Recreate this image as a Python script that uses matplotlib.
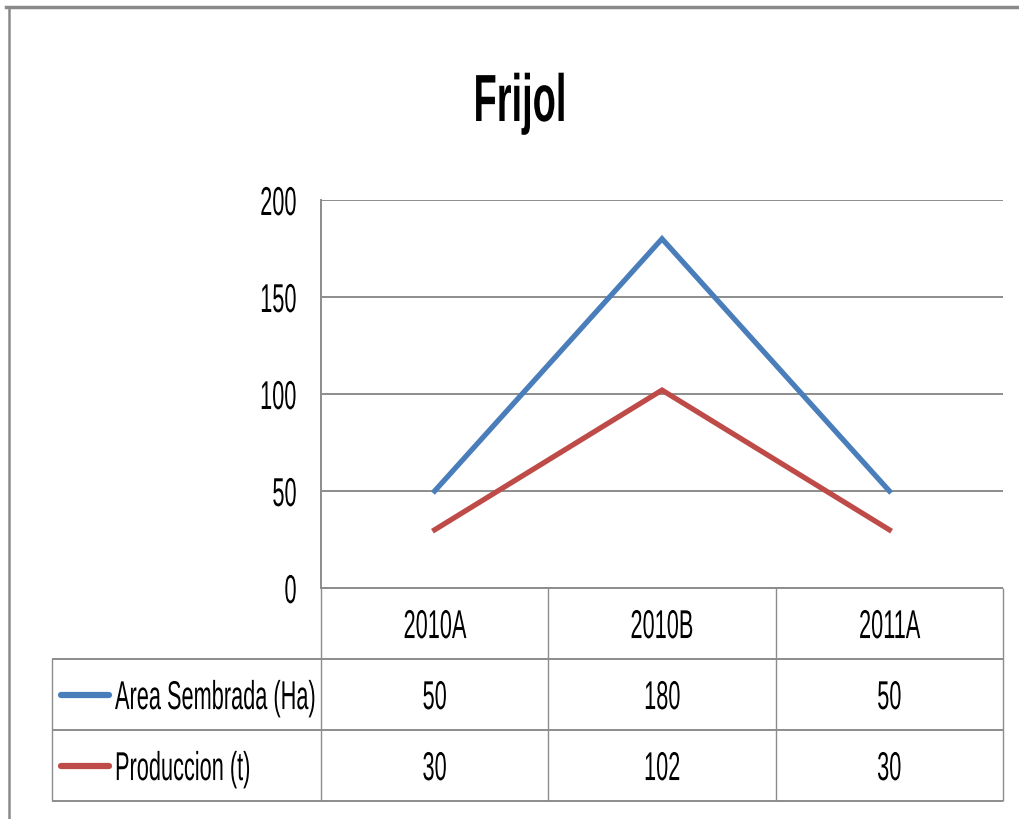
import matplotlib.pyplot as plt
from matplotlib.lines import Line2D
from matplotlib.patheffects import AbstractPathEffect
from matplotlib.transforms import Affine2D

plt.rcParams['font.family'] = ['Liberation Sans', 'DejaVu Sans']

categories = ['2010A', '2010B', '2011A']
area = [50, 180, 50]
produccion = [30, 102, 30]
series_names = ['Area Sembrada (Ha)', 'Produccion (t)']
yticks = [0, 50, 100, 150, 200]

blue = '#4a7ebb'
red = '#be4b48'
grid_c = '#8c8c8c'


class Squeeze(AbstractPathEffect):
    """Draw text narrower (the reference uses a very condensed face)."""

    def __init__(self, sx=0.54, anchor='center'):
        super().__init__()
        self.sx = sx
        self.anchor = anchor

    def draw_path(self, renderer, gc, tpath, affine, rgbFace=None):
        ext = tpath.get_extents()
        if self.anchor == 'left':
            cx = 0
        elif self.anchor == 'right':
            cx = ext.x1
        else:
            cx = (ext.x0 + ext.x1) / 2
        t = Affine2D().translate(-cx, 0).scale(self.sx, 1).translate(cx, 0) + affine
        renderer.draw_path(gc, tpath, t, rgbFace)


W, H = 1019, 820
fig = plt.figure(figsize=(W / 100, H / 100), dpi=100)


def box(x0, y0, x1, y1):
    # pixel box (top-left origin) -> figure rect
    return [x0 / W, 1 - y1 / H, (x1 - x0) / W, (y1 - y0) / H]


# outer chart border (only top and left are visible)
fig.add_artist(Line2D([6 / W, 1], [1 - 8 / H, 1 - 8 / H], color='#8a8a8a', lw=2.5))
fig.add_artist(Line2D([9 / W, 9 / W], [1 - 8 / H, 0], color='#8a8a8a', lw=1.8))

fig.text(520 / W, 1 - 122 / H, 'Frijol', ha='center', va='baseline',
         fontsize=48, fontweight='bold', path_effects=[Squeeze(0.57)])

# plot area
ax = fig.add_axes(box(321, 201, 1003, 589))
x = range(len(categories))
ax.plot(x, area, color=blue, lw=3.8, solid_joinstyle='miter')
ax.plot(x, produccion, color=red, lw=3.8, solid_joinstyle='miter')
ax.set_xlim(-0.5, len(categories) - 0.5)
ax.set_ylim(0, 200)
ax.set_yticks(yticks)
ax.set_xticks([])
ax.yaxis.grid(True, color=grid_c, lw=1.4)
ax.set_axisbelow(True)
for s in ['top', 'right', 'bottom']:
    ax.spines[s].set_visible(False)
ax.spines['left'].set_color(grid_c)
ax.spines['left'].set_linewidth(1.4)
ax.tick_params(axis='y', length=0, pad=17, labelsize=29)
for lab in ax.get_yticklabels():
    lab.set_path_effects([Squeeze(0.54, 'right')])

# data table below the plot
ta = fig.add_axes(box(52, 589, 1003, 802))
col_w = 227.3
left = -0.5 - (321 - 52) / col_w
n = len(categories)
ta.set_xlim(left, n - 0.5)
ta.set_ylim(3, 0)
ta.axis('off')
lk = dict(color=grid_c, lw=1.4, clip_on=False)
ta.hlines(0, -0.5, n - 0.5, **lk)
ta.hlines([1, 2, 3], left, n - 0.5, **lk)
ta.vlines([i - 0.5 for i in range(n + 1)], 0, 3, color=grid_c, lw=1.0, clip_on=False)
ta.vlines(left, 1, 3, color=grid_c, lw=1.0, clip_on=False)

txt = dict(ha='center', va='center', fontsize=29)
for i, c in enumerate(categories):
    ta.text(i, 0.55, c, path_effects=[Squeeze(0.54)], **txt)

rows = [area, produccion]
colors = [blue, red]
for r, (vals, name, col) in enumerate(zip(rows, series_names, colors), start=1):
    ta.plot([left + 9 / col_w, left + 57 / col_w], [r + 0.5, r + 0.5],
            color=col, lw=4.5, solid_capstyle='round', clip_on=False)
    ta.text(left + 63 / col_w, r + 0.55, name, ha='left', va='center', fontsize=29,
            path_effects=[Squeeze(0.54, 'left')])
    for i, v in enumerate(vals):
        ta.text(i, r + 0.55, str(v), path_effects=[Squeeze(0.54)], **txt)

fig.savefig('out.png', dpi=100)
